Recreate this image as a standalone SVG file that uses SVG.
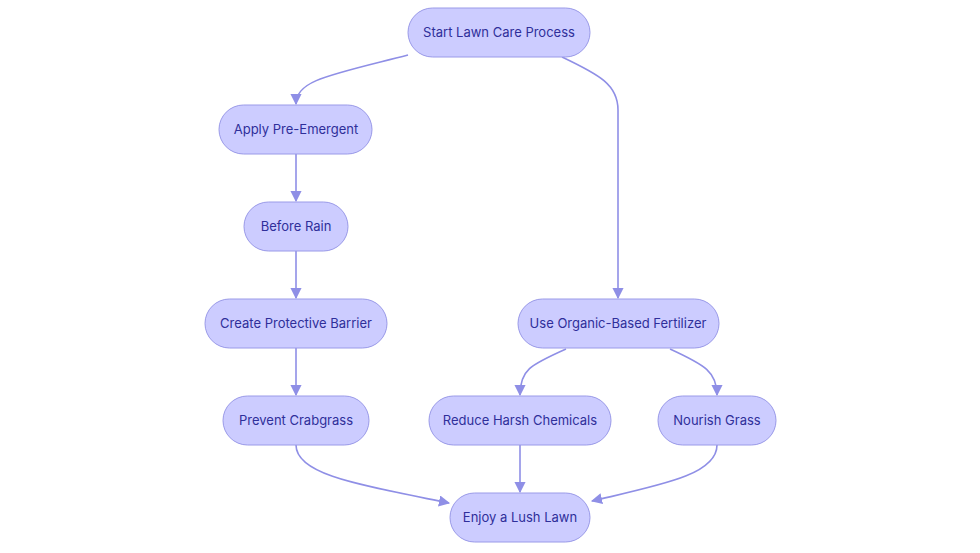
<svg xmlns="http://www.w3.org/2000/svg" width="980" height="553" viewBox="0 0 980 553">
<style>
.n rect{fill:#ccccff;stroke:#9a9ae8;stroke-width:1}
.n text{font-family:Inter,"Liberation Sans",sans-serif;font-size:13px;fill:#2f2f9a;text-anchor:middle;dominant-baseline:central}
.e path{fill:none;stroke:#8f8fe6;stroke-width:1.6;marker-end:url(#a)}
</style>
<defs><marker id="a" viewBox="0 0 10 10" refX="9" refY="5" markerWidth="7" markerHeight="7" orient="auto"><path d="M0,0L10,5L0,10z" fill="#8f8fe6"/></marker></defs>
<rect width="980" height="553" fill="#fff"/>
<g class="e">
<path d="M408,55 C330,75 296,80 296,104"/>
<path d="M562,57 C600,75 618,85 618,110 L618,298"/>
<path d="M296,154 L296,201"/>
<path d="M296,251 L296,298"/>
<path d="M296,348 L296,395"/>
<path d="M566,349 C530,365 520,370 520,395"/>
<path d="M670,349 C705,365 717,372 717,395"/>
<path d="M296,445 C296,475 360,485 449,503"/>
<path d="M520,445 L520,492"/>
<path d="M717,445 C717,475 660,485 592,501"/>
</g>
<g id="start" class="n"><rect x="408" y="8" width="182" height="49" rx="24.5"/><text x="499" y="32">Start Lawn Care Process</text></g>
<g id="apply" class="n"><rect x="219" y="105" width="153" height="49" rx="24.5"/><text x="296" y="129">Apply Pre-Emergent</text></g>
<g id="rain" class="n"><rect x="244" y="202" width="104" height="49" rx="24.5"/><text x="296" y="226">Before Rain</text></g>
<g id="barrier" class="n"><rect x="205" y="299" width="182" height="49" rx="24.5"/><text x="296" y="323">Create Protective Barrier</text></g>
<g id="crab" class="n"><rect x="223" y="396" width="146" height="49" rx="24.5"/><text x="296" y="420">Prevent Crabgrass</text></g>
<g id="organic" class="n"><rect x="518" y="299" width="201" height="49" rx="24.5"/><text x="618" y="323">Use Organic-Based Fertilizer</text></g>
<g id="reduce" class="n"><rect x="429" y="396" width="182" height="49" rx="24.5"/><text x="520" y="420">Reduce Harsh Chemicals</text></g>
<g id="nourish" class="n"><rect x="658" y="396" width="118" height="49" rx="24.5"/><text x="717" y="420">Nourish Grass</text></g>
<g id="enjoy" class="n"><rect x="450" y="493" width="140" height="49" rx="24.5"/><text x="520" y="517">Enjoy a Lush Lawn</text></g>
</svg>
